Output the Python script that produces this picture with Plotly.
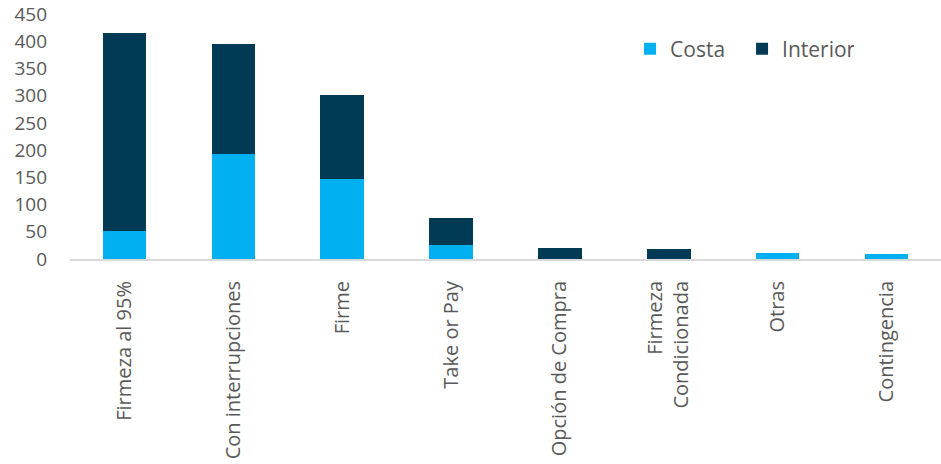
import plotly.graph_objects as go

categories = ["Firmeza al 95%", "Con interrupciones", "Firme", "Take or Pay",
              "Opción de Compra", "Firmeza<br>Condicionada", "Otras", "Contingencia"]
costa = [52, 192, 147, 26, 0, 0, 11, 10]
interior = [363, 202, 155, 50, 21, 18, 0, 0]
y_ticks = [0, 50, 100, 150, 200, 250, 300, 350, 400, 450]

FONT = "Open Sans"
GRAY = "#595959"

fig = go.Figure()
fig.add_trace(go.Bar(x=categories, y=costa, name="Costa", marker_color="#00B0F0",
                     marker_line_width=0))
fig.add_trace(go.Bar(x=categories, y=interior, name="Interior", marker_color="#003A54",
                     marker_line_width=0))

fig.update_layout(
    width=941, height=464,
    barmode="stack", bargap=0.6,
    plot_bgcolor="white", paper_bgcolor="white",
    margin=dict(l=70, r=0, t=14, b=205),
    font=dict(family=FONT, size=19, color=GRAY),
    showlegend=True,
    legend=dict(orientation="h", x=0.643, y=0.94, xanchor="left", yanchor="top",
                traceorder="normal", font=dict(size=21, color=GRAY),
                entrywidth=67, entrywidthmode="pixels", bgcolor="rgba(0,0,0,0)"),
    xaxis=dict(showline=True, linecolor="#D9D9D9", linewidth=2, tickangle=-90,
               ticks="", showgrid=False, ticklabelstandoff=12, automargin=False,
               tickfont=dict(size=20, color=GRAY)),
    yaxis=dict(range=[0, 450], tickvals=y_ticks, showgrid=False, zeroline=False,
               showline=False, ticks="", ticklabelstandoff=22, automargin=False,
               tickfont=dict(size=19, color=GRAY)),
)

fig.write_html("out.html", config={"displayModeBar": False},
               post_script="document.body.style.margin='0px';")
